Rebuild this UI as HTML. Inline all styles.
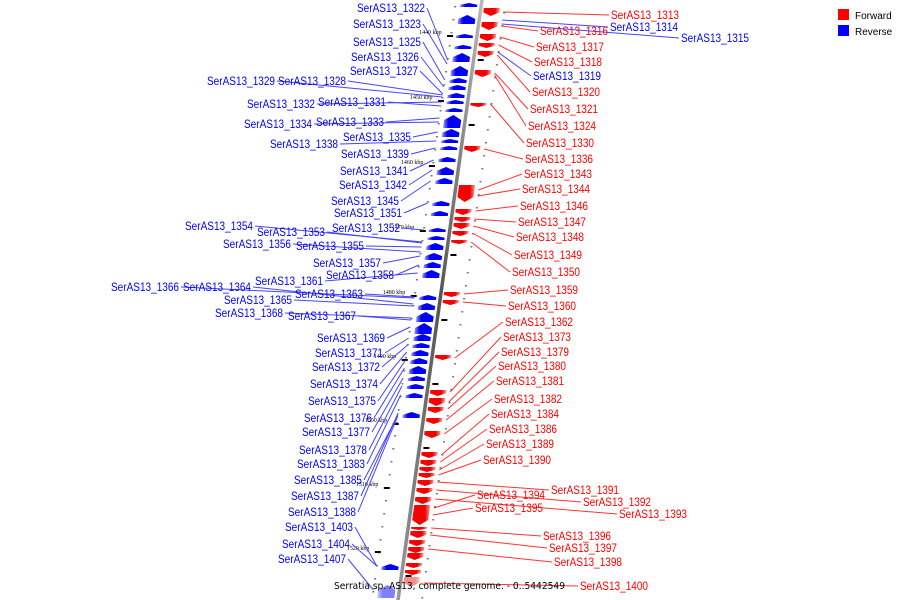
<!DOCTYPE html>
<html><head><meta charset="utf-8">
<style>
html,body{margin:0;padding:0;background:#fff;width:900px;height:600px;overflow:hidden}
svg{display:block}
</style></head>
<body>
<svg id="map" width="900" height="600" viewBox="0 0 900 600">
<defs>
<linearGradient id="gr" x1="0" x2="1" y1="0" y2="0"><stop offset="0" stop-color="#ff0000"/><stop offset="0.7" stop-color="#ee0000"/><stop offset="1" stop-color="#ff9a9a"/></linearGradient>
<linearGradient id="gb" x1="0" x2="1" y1="0" y2="0"><stop offset="0" stop-color="#9a9aff"/><stop offset="0.3" stop-color="#0000ee"/><stop offset="1" stop-color="#0000ff"/></linearGradient>
<linearGradient id="gl" x1="0" x2="1" y1="0" y2="0"><stop offset="0" stop-color="#999"/><stop offset="0.5" stop-color="#555"/><stop offset="1" stop-color="#bbb"/></linearGradient>
</defs>
<g id="ticks"></g>
<g id="leaders"></g>
<g id="feats"></g>
<g id="backbone"></g>
<g id="labels"></g>
<g>
<rect x="838" y="9" width="11" height="11" fill="#ff0000"/>
<text x="855" y="19" font-family="Liberation Sans, sans-serif" font-size="10" fill="#000">Forward</text>
<rect x="838" y="25" width="11" height="11" fill="#0000ff"/>
<text x="855" y="35" font-family="Liberation Sans, sans-serif" font-size="10" fill="#000">Reverse</text>
</g>
<text x="334" y="589" font-family="DejaVu Sans, sans-serif" font-size="10" textLength="231" lengthAdjust="spacingAndGlyphs" fill="#000">Serratia sp. AS13, complete genome. - 0..5442549</text>
</svg>
<script>
// backbone geometry
const X0 = 482, SLOPE = 0.140;
function bx(y){ return X0 - SLOPE*y; }

// data arrays
const redStarts = [8,22,34,43,51,70,103,146,185,209,217,223,231,240,292,300,355,390,398,407,418,431,452,460,467,473,480,488,497,505,527,531,540,547,553,563,570,577];
const redEnds   = [16,30,41,48,57,77,107,152,202,215,222,229,236,244,297,305,360,396,406,413,424,438,458,466,472,478,486,494,504,525,530,538,546,553,560,568,575,587];
const blueStarts = [3,15,34,45,53,66,78,85,93,100,108,115,129,139,146,157,167,178,201,211,228,236,243,253,262,270,295,303,312,323,334,343,350,358,366,376,384,393,412,564,585];
const blueEnds   = [7,24,38,49,62,76,83,90,98,104,112,128,137,143,150,162,175,184,206,216,232,240,250,260,268,278,300,310,322,334,341,348,356,364,374,381,389,398,418,570,598];

const tickKbp = [1440,1450,1460,1470,1480,1490,1500,1510,1520];
const tickY = [35,100,165,230,295,359,423,487,551];

const redNames = ["1313","1314","1315","1316","1317","1318","1319","1320","1321","1324","1330","1336","1343","1344","1346","1347","1348","1349","1350","1359","1360","1362","1373","1379","1380","1381","1382","1384","1386","1389","1390","1391","1392","1393","1394","1395","1396","1397","1398","1400"];
const redLabX = [611,610,681,540,536,534,533,532,530,528,526,525,524,522,520,518,516,514,512,510,508,505,503,501,498,496,494,491,489,486,483,551,583,619,477,475,543,549,554,580];
const redLabY = [15,27,38,31,47,62,76,92,109,126,143,159,174,189,206,222,237,255,272,290,306,322,337,352,366,381,399,414,429,444,460,490,502,514,495,508,536,548,562,586];
const redAnchorY = [12,20,24,26,37,45,52,55,73,75,104,149,190,196,211,219,226,233,242,294,302,358,392,402,409,420,434,455,462,470,475,482,490,499,508,515,528,535,549,583];
const redIsReverse = [0,1,1,0,0,0,1,0,0,0,0,0,0,0,0,0,0,0,0,0,0,0,0,0,0,0,0,0,0,0,0,0,0,0,0,0,0,0,0,0];

const blueNames = ["1322","1323","1325","1326","1327","1329","1328","1332","1331","1333","1334","1335","1338","1339","1341","1342","1345","1351","1354","1353","1352","1356","1355","1357","1358","1361","1366","1364","1363","1365","1368","1367","1369","1371","1372","1374","1375","1376","1377","1378","1383","1385","1387","1388","1403","1404","1407"];
const blueLabEnd = [425,421,421,419,418,275,346,315,386,384,312,411,338,409,408,407,399,402,253,325,400,291,364,381,394,323,179,251,363,292,283,356,385,383,380,378,376,372,370,367,365,362,359,356,353,350,346];
const blueLabY = [8,24,42,57,71,81,81,104,102,122,124,137,144,154,171,185,201,213,226,232,228,244,246,263,275,281,287,287,294,300,313,316,338,353,367,384,401,418,432,450,464,480,496,512,527,544,559];
const blueAnchorY = [60,64,80,87,94,97,95,102,106,118,122,132,141,148,160,170,181,203,242,243,230,252,247,256,265,273,298,304,297,306,318,320,327,338,345,352,360,368,378,386,395,415,413,416,566,566,590];

const NS = "http://www.w3.org/2000/svg";
function mk(tag, attrs, parent){ const e=document.createElementNS(NS,tag); for(const k in attrs) e.setAttribute(k,attrs[k]); parent.appendChild(e); return e; }
const gT=document.getElementById('ticks'), gL=document.getElementById('leaders'), gF=document.getElementById('feats'), gB=document.getElementById('backbone'), gX=document.getElementById('labels');

for(let y=6;y<600;y+=13){
  const d1=mk('rect',{x:bx(y)-27,y:y,width:2,height:1.5,fill:'#777'},gT);
  
  
  const d2=mk('rect',{x:bx(y)+22,y:y+6,width:2,height:1.5,fill:'#777'},gT);
  
  
}
tickKbp.forEach((k,i)=>{
  const y=tickY[i];
  const t=mk('rect',{x:bx(y)-30,y:y,width:6,height:2,fill:'#000'},gT);
  
  
  const t2=mk('rect',{x:bx(y+24)+4,y:y+24,width:6,height:2,fill:'#000'},gT);
  
  
  const tx=mk('text',{x:bx(y)-58,y:y-1,'font-family':'Liberation Serif, serif','font-size':'6',fill:'#000'},gT);
  tx.textContent=k+' kbp';
  
  
});

const bl=mk('line',{x1:bx(-5),y1:-5,x2:bx(605),y2:605,stroke:'url(#gl)','stroke-width':3.5},gB);



function feat(s,e,fwd){
  const h=e-s, a=Math.min(5,h*0.45);
  let pts;
  if(fwd){
    const l=3,r=19;
    pts=[[bx(s)+l,s],[bx(s)+r,s],[bx(e-a)+r,e-a],[bx(e)+(l+r)/2,e],[bx(e-a)+l,e-a]];
  } else {
    const l=-21,r=-4;
    pts=[[bx(s+a)+l,s+a],[bx(s)+(l+r)/2,s],[bx(s+a)+r,s+a],[bx(e)+r,e],[bx(e)+l,e]];
  }
  return mk('polygon',{points:pts.map(q=>q.join(',')).join(' '),fill:fwd?'url(#gr)':'url(#gb)'},gF);
}
redStarts.forEach((s,i)=>{
  const p=feat(s,redEnds[i],true);
  
  
  if(redEnds[i]>580) p.setAttribute('opacity','0.45');
});
blueStarts.forEach((s,i)=>{
  const p=feat(s,blueEnds[i],false);
  
  
  if(blueEnds[i]>590) p.setAttribute('opacity','0.5');
});

const FONT='Liberation Sans, sans-serif';
const BASE=4;
redNames.forEach((n,i)=>{
  const col=redIsReverse[i]?'#0000ff':'#ff0000';
  const lc=redIsReverse[i]?'#4444ff':'#ff3333';
  const ay=redAnchorY[i];
  const ln=mk('line',{x1:bx(ay)+23,y1:ay,x2:redLabX[i]-2,y2:redLabY[i],stroke:lc,'stroke-width':1},gL);
  
  
  const t=mk('text',{x:redLabX[i],y:redLabY[i]+BASE,'font-family':FONT,'font-size':'11.5',fill:col,textLength:68,lengthAdjust:'spacingAndGlyphs'},gX);
  t.textContent='SerAS13_'+n;
  
  
});
blueNames.forEach((n,i)=>{
  const ay=blueAnchorY[i];
  const ln=mk('line',{x1:blueLabEnd[i]+2,y1:blueLabY[i],x2:bx(ay)-26,y2:ay,stroke:'#4444ff','stroke-width':1},gL);
  
  
  const t=mk('text',{x:blueLabEnd[i]-68,y:blueLabY[i]+BASE,'font-family':FONT,'font-size':'11.5',fill:'#0000ff',textLength:68,lengthAdjust:'spacingAndGlyphs'},gX);
  t.textContent='SerAS13_'+n;
  
  
});
</script>
</body></html>
